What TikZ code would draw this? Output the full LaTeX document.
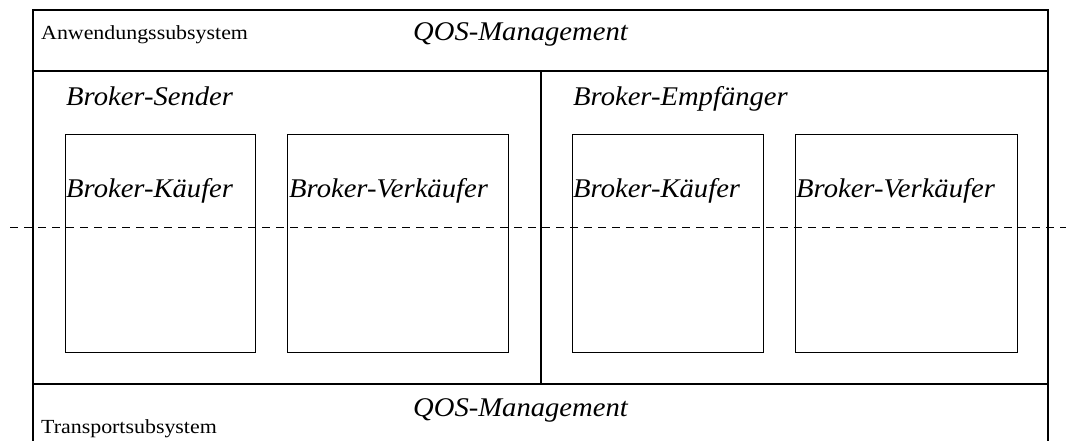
\documentclass[tikz,border=0pt]{standalone}
\usepackage{fontspec}
\setmainfont{Liberation Serif}
\newfontfamily\itfnt{Liberation Serif}[ItalicFeatures={FakeStretch=1.06}]
\newfontfamily\smfnt{Liberation Serif}[FakeStretch=1.095]
\begin{document}
\begin{tikzpicture}[x=1pt,y=-1pt,
  frame/.style={line width=1.1pt, draw=black},
  box/.style={draw=black, line width=1.1pt, anchor=north west, inner sep=0pt},
  small/.style={font=\smfnt\fontsize{20}{24}\selectfont, anchor=base west, inner sep=0pt},
  ital/.style={font=\itfnt\fontsize{27}{31}\selectfont\itshape, anchor=base west, inner sep=0pt}]
\useasboundingbox (0,0) rectangle (1070,441);
% frame
\draw[frame] (33,441) -- (33,10) -- (1048,10) -- (1048,441);
\draw[frame] (33,71) -- (1048,71);
\draw[frame] (33,384) -- (1048,384);
\draw[frame] (541,71) -- (541,384);
% boxes
\node[box, minimum width=190pt, minimum height=218pt] (b1) at (65,134) {};
\node[box, minimum width=221pt, minimum height=218pt] (b2) at (287,134) {};
\node[box, minimum width=191pt, minimum height=218pt] (b3) at (572,134) {};
\node[box, minimum width=222pt, minimum height=218pt] (b4) at (795,134) {};
% dashed line
\coordinate (dl) at (10,227);
\coordinate (dr) at (1066,227);
\draw[line width=1pt, dash pattern=on 8pt off 6pt] (dl) -- (dr);
% texts
\node[small] (anw) at (41,40) {Anwendungssubsystem};
\node[ital] (qos1) at (413,41) {QOS-Management};
\node[ital] (bs) at (66,106) {Broker-Sender};
\node[ital] (be) at (573,106) {Broker-Empfänger};
\node[ital] (k1) at (66,197) {Broker-Käufer};
\node[ital] (v1) at (289,197) {Broker-Verkäufer};
\node[ital] (k2) at (573,197) {Broker-Käufer};
\node[ital] (v2) at (796,197) {Broker-Verkäufer};
\node[ital] (qos2) at (413,416) {QOS-Management};
\node[small] (tr) at (41,433) {Transportsubsystem};
\end{tikzpicture}
\end{document}
